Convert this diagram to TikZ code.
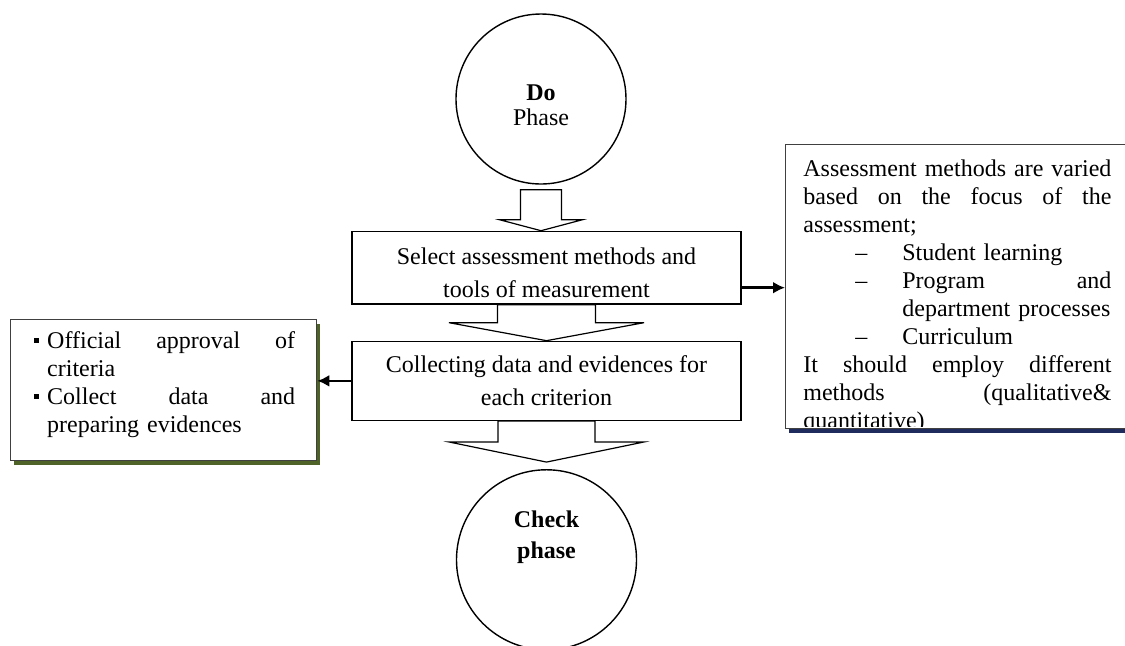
\documentclass[tikz,border=0pt]{standalone}
\usepackage{fontspec}
\setmainfont{Liberation Serif}
\usepackage{tikz}
\usetikzlibrary{arrows.meta,positioning,calc,shadows}
\definecolor{shadeolive}{HTML}{4F6228}
\definecolor{shadenavy}{HTML}{1F2B5C}
\newcommand{\sqbul}{\makebox[7.5pt][l]{\hspace{0.75pt}\rule[0.25em]{2.6pt}{2.6pt}}}
\newcommand{\dashitem}{\hspace*{26pt}\makebox[23.5pt][l]{--}}
% block arrow: from, to, start gap, end gap, shaft half width, head half width, head length
\newcommand{\fatarrow}[7]{%
  \draw[fatarr] ($(#1.south)+(-#5,#3)$) |- ($(#1.south |- #2.north)+(-#6,{-#4-#7})$)
    -- ($(#1.south |- #2.north)+(0,-#4)$)
    -- ($(#1.south |- #2.north)+(#6,{-#4-#7})$)
    -| ($(#1.south)+(#5,#3)$) -- cycle;}
\begin{document}
\begin{tikzpicture}[
x=0.5pt, y=-0.5pt,
font=\fontsize{12}{14}\selectfont,
phase/.style={circle, draw, line width=0.7pt, inner sep=0pt},
stepbox/.style={rectangle, draw, line width=0.7pt, fill=white, minimum width=194.5pt, align=center, font=\fontsize{12}{16.5}\selectfont},
notebox/.style={rectangle, draw=black!75, line width=0.6pt, fill=white},
link/.style={-{Latex[length=6pt,width=6pt]}, line width=1.2pt},
fatarr/.style={draw, fill=white, line width=0.6pt, line join=miter}
]
\useasboundingbox (0,0) rectangle (1125,645);
\clip (0,0) rectangle (1125,645);

% --- Phases and steps ---
\node (do) [phase, minimum size=85pt, label={[align=center, font=\fontsize{12}{12.5}\selectfont, yshift=-3pt]center:\textbf{Do}\\Phase}] at (541,99) {};
\node (sel) [stepbox, below=23pt of do, xshift=2.75pt, minimum height=36pt] {\rule{0pt}{13pt}Select assessment methods and\\tools of measurement};
\node (col) [stepbox, below=18pt of sel, minimum height=39.5pt] {Collecting data and evidences for\\each criterion};
\node (chk) [phase, below=24pt of col, minimum size=90pt, label={[align=center, font=\fontsize{12}{15.5}\selectfont\bfseries, yshift=11.5pt]center:Check\\phase}] {};

% --- Side notes ---
\node (crit) [notebox, left=17pt of col, yshift=-4.5pt, minimum width=153pt, minimum height=70.5pt, text width=131.5pt, align=left,
  drop shadow={shadow xshift=1.75pt, shadow yshift=-2.5pt, fill=shadeolive, opacity=1}]
  {\sqbul Official\hfill approval\hfill of\\
   \hspace*{7.5pt}criteria\\
   \sqbul Collect\hfill data\hfill and\\
   \hspace*{7.5pt}\mbox{preparing evidences}\rule[-7.6pt]{0pt}{1pt}};
\node (asm) [notebox, anchor=north west, minimum width=175pt, minimum height=142pt,
  drop shadow={shadow xshift=1.5pt, shadow yshift=-2pt, fill=shadenavy, opacity=1}] at (785,144) {};
\begin{scope}
\clip (asm.north west) rectangle ([yshift=1.5pt]asm.south east);
\node (asmtext) [anchor=north west, inner sep=0pt, text width=154pt, align=left] at ([xshift=9pt, yshift=-6.4pt]asm.north west)
  {\strut Assessment\hfill methods\hfill are\hfill varied\\
   based\hfill on\hfill the\hfill focus\hfill of\hfill the\\
   assessment;\\
   \dashitem Student learning\\
   \dashitem Program\hfill and\\
   \hspace*{49.5pt}\mbox{department processes}\\
   \dashitem Curriculum\\
   It\hfill should\hfill employ\hfill different\\
   methods\hfill (qualitative\&\\
   quantitative)};
\end{scope}

% --- Flow arrows ---
\fatarrow{do}{sel}{5}{0}{20.5}{41.5}{11}
\fatarrow{sel}{col}{0}{0}{49}{97.5}{18}
\fatarrow{col}{chk}{0}{7}{48.5}{97}{20}

% --- Links to notes ---
\draw [link] ([yshift=-10pt]sel.east) -- ([yshift=-10pt]sel.east -| asm.west);
\draw [link] (col.west) -- (col.west -| crit.east);

\end{tikzpicture}
\end{document}
